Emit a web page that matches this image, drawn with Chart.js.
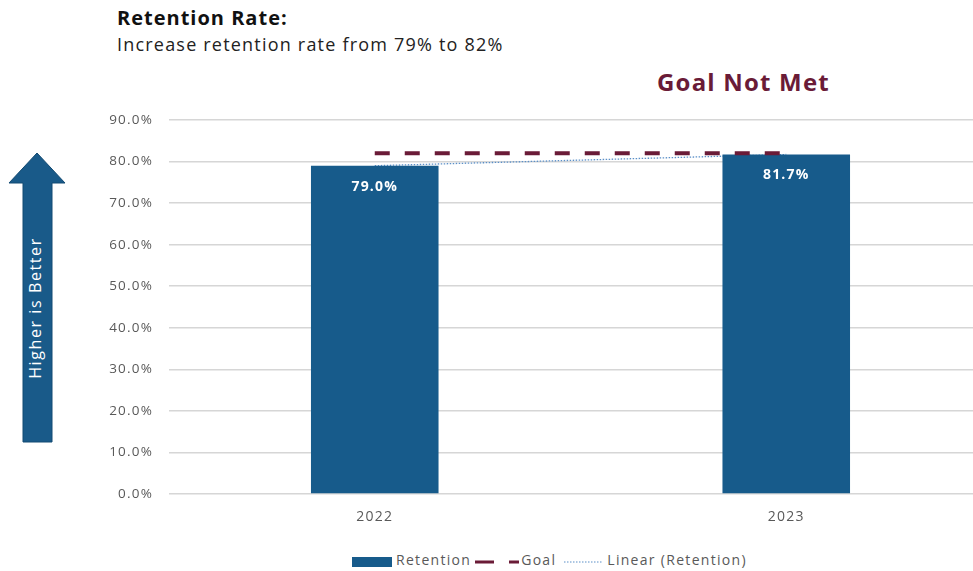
<!DOCTYPE html>
<html>
<head>
<meta charset="utf-8">
<script src="https://cdn.jsdelivr.net/npm/chart.js@4"></script>
<style>
  html, body { margin:0; padding:0; width:973px; height:571px; overflow:hidden; background:#fff; }
  #wrap { position:absolute; left:0; top:0; width:992px; height:540px; }
  .t1 { position:absolute; left:117px; top:4px; font:bold 20px "Open Sans", sans-serif; letter-spacing:1px; color:#111; white-space:nowrap; }
  .t2 { position:absolute; left:117px; top:32px; font:18px "Open Sans", sans-serif; letter-spacing:1.2px; color:#222; white-space:nowrap; }
  .gnm { position:absolute; left:657px; top:65px; font:bold 24px "Open Sans", sans-serif; letter-spacing:1.2px; color:#6a1b37; white-space:nowrap; }
  #legend { position:absolute; top:550px; left:352px; height:18px; font:14px "Open Sans", sans-serif; letter-spacing:1.3px; color:#595959; white-space:nowrap; display:flex; align-items:center; }
  #legend span { display:inline-block; }
  #arrow { position:absolute; left:0; top:140px; }
</style>
</head>
<body>
<div class="t1">Retention Rate:</div>
<div class="t2">Increase retention rate from 79% to 82%</div>
<div class="gnm">Goal Not Met</div>
<svg id="arrow" width="80" height="310" viewBox="0 140 80 310">
  <polygon points="37,153 65,183 52,183 52,442 23,442 23,183 9,183" fill="#195a89" stroke="#124a72" stroke-width="1"/>
  <text x="0" y="0" transform="translate(41,308) rotate(-90)" text-anchor="middle" font-family="Open Sans, sans-serif" font-size="16" letter-spacing="1.6" fill="#ffffff">Higher is Better</text>
</svg>
<div id="wrap"><canvas id="c"></canvas></div>
<div id="legend"></div>
<script>
const categories = ["2022", "2023"];
const retention = [79.0, 81.7];
const goal = [82, 82];
const linearRetention = [79.0, 81.7];
const yTicks = [0, 10, 20, 30, 40, 50, 60, 70, 80, 90];

const barColor = "#175b8b";
const goalColor = "#6a1b37";
const trendColor = "#5b8fc7";

const spacingPlugin = {
  id: "spacing",
  beforeDraw(chart) { chart.ctx.letterSpacing = "1.2px"; }
};

const labelPlugin = {
  id: "barLabels",
  afterDatasetsDraw(chart) {
    const ctx = chart.ctx;
    const meta = chart.getDatasetMeta(2);
    ctx.save();
    ctx.letterSpacing = "1.2px";
    ctx.fillStyle = "#ffffff";
    ctx.font = "bold 14px 'Open Sans', sans-serif";
    ctx.textAlign = "center";
    ctx.textBaseline = "middle";
    meta.data.forEach((bar, i) => {
      ctx.fillText(retention[i].toFixed(1) + "%", bar.x, bar.y + 21);
    });
    ctx.restore();
  }
};

const chart = new Chart(document.getElementById("c"), {
  data: {
    labels: categories,
    datasets: [
      { type: "line", label: "Goal", data: goal, borderColor: goalColor, borderWidth: 4, borderDash: [15, 15], pointRadius: 0, fill: false, order: 0 },
      { type: "line", label: "Linear (Retention)", data: linearRetention, borderColor: trendColor, borderWidth: 1.3, borderDash: [1.5, 1.5], pointRadius: 0, fill: false, order: 2 },
      { type: "bar", label: "Retention", data: retention, backgroundColor: barColor, categoryPercentage: 1, barPercentage: 0.31, order: 1 }
    ]
  },
  options: {
    responsive: true,
    maintainAspectRatio: false,
    animation: false,
    layout: { padding: { top: 120, left: 0, right: 0, bottom: 0 } },
    plugins: { legend: { display: false }, tooltip: { enabled: false } },
    scales: {
      x: {
        grid: { display: false, drawTicks: false },
        border: { display: false },
        ticks: { padding: 15, color: "#595959", font: { family: "'Open Sans', sans-serif", size: 14 } },
        afterFit(s) { s.height = 46; }
      },
      y: {
        min: 0, max: 90,
        afterBuildTicks(s) { s.ticks = yTicks.map(v => ({ value: v })); },
        grid: { color: "#d6d6d6", lineWidth: 1.5, drawTicks: false },
        border: { display: false },
        ticks: { padding: 16, color: "#595959", font: { family: "'Open Sans', sans-serif", size: 13.5 }, callback: v => v.toFixed(1) + "%" },
        afterFit(s) { s.width = 169; }
      }
    }
  },
  plugins: [spacingPlugin, labelPlugin]
});

// legend built from the datasets
const lg = document.getElementById("legend");
function sw(html, w, ml, mr) { const s = document.createElement("span"); s.innerHTML = html; s.style.width = w + "px"; s.style.height = "12px"; s.style.marginLeft = ml + "px"; s.style.marginRight = mr + "px"; return s; }
function tx(t) { const s = document.createElement("span"); s.textContent = t; return s; }
const ds = chart.data.datasets;
lg.appendChild(sw(`<svg width="40" height="12"><rect x="0" y="1" width="40" height="10" fill="${barColor}"/></svg>`, 40, 0, 4));
lg.appendChild(tx(ds[2].label));
lg.appendChild(sw(`<svg width="44" height="12"><line x1="0" y1="6" x2="44" y2="6" stroke="${goalColor}" stroke-width="3" stroke-dasharray="19,15"/></svg>`, 44, 4, 2));
lg.appendChild(tx(ds[0].label));
lg.appendChild(sw(`<svg width="39" height="12"><line x1="0" y1="6" x2="39" y2="6" stroke="${trendColor}" stroke-width="1.2" stroke-dasharray="1.5,1.5"/></svg>`, 39, 8, 4));
lg.appendChild(tx(ds[1].label));
</script>
</body>
</html>
